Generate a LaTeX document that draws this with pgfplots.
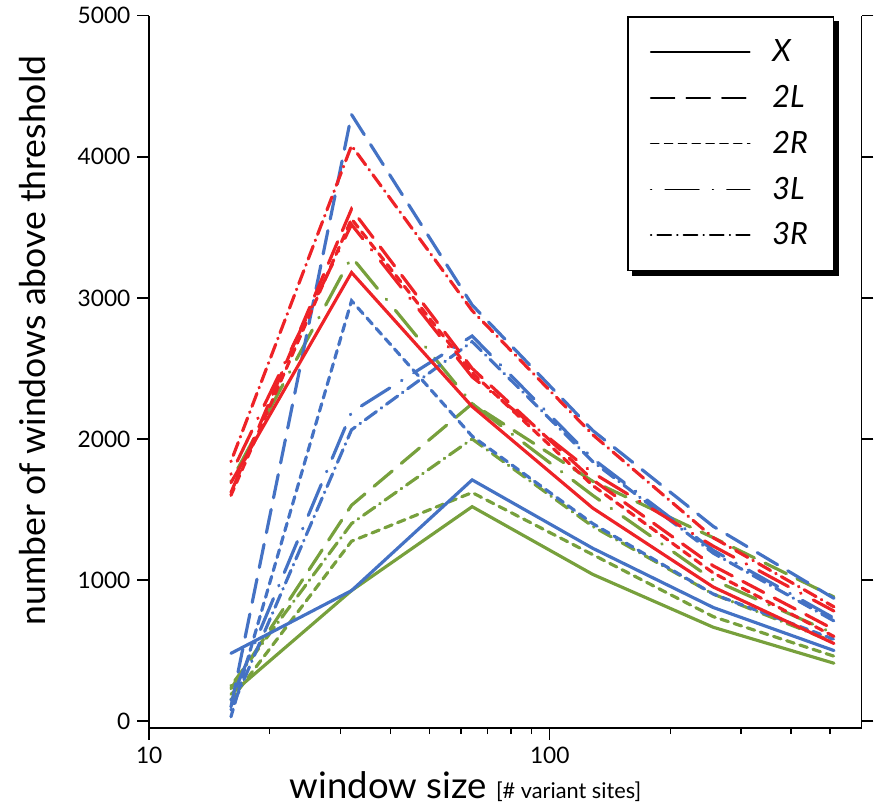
\documentclass[border=0pt]{standalone}
\usepackage{fontspec}
\setmainfont{Lato}
\usepackage{pgfplots}
\pgfplotsset{compat=1.18}
\usetikzlibrary{calc}
\pgfdeclarelayer{background}
\pgfsetlayers{background,main}
\definecolor{cblue}{HTML}{4472C4}
\definecolor{cred}{HTML}{EE2227}
\definecolor{cgreen}{HTML}{77A03C}
\tikzset{
 sX/.style={solid},
 s2L/.style={dash pattern=on 12pt off 6pt},
 s2R/.style={dash pattern=on 4pt off 3pt},
 s3L/.style={dash pattern=on 0.3pt off 7pt on 17pt off 7pt},
 s3R/.style={dash pattern=on 0.3pt off 3pt on 7pt off 3pt},
}
\begin{document}
\begin{tikzpicture}
\begin{axis}[
 scale only axis, width=360.5pt, height=360.5pt,
 xmode=log, xmin=10, xmax=600, ymin=-50, ymax=5000,
 axis x line=bottom, axis y line=box, axis line style={-, line width=0.9pt},
 tick align=outside,
 ytick={0,1000,...,5000}, xtick={10,100}, xticklabels={10,100},
 minor xtick={20,30,40,50,60,70,80,90,200,300,400,500},
 yticklabel pos=left,
 major tick length=6pt, minor tick length=3pt,
 every tick/.style={line width=0.7pt, black},
 ticklabel style={font=\fontsize{11.5}{13}\selectfont},
 /pgf/number format/assume math mode=true,
 /pgf/number format/set thousands separator={},
 ylabel={number of windows above threshold},
 ylabel style={font=\fontsize{18}{21}\selectfont, at={(axis description cs:-0.164,0.544)}, anchor=center},
 xlabel={window size {\fontsize{11}{13}\selectfont [\# variant sites]}},
 xlabel style={font=\fontsize{18.5}{21}\selectfont, at={(axis description cs:0.444,-0.0985)}, anchor=base},
 every axis plot/.append style={line width=1.6pt, line cap=round},
 legend image code/.code={\draw[#1, line width=0.9pt] (0pt,0pt) -- (50pt,0pt);},
 legend cell align=left,
 legend style={name=leg, draw=black, line width=0.9pt, fill=white, at={(0.962,1)}, anchor=north east,
   inner xsep=11pt, inner ysep=9.5pt, row sep=6.5pt,
   /tikz/every odd column/.append style={column sep=9pt},
   font=\fontsize{15.5}{17}\selectfont\itshape},
]
\addlegendimage{black, sX}\addlegendentry{X}
\addlegendimage{black, s2L}\addlegendentry{2L}
\addlegendimage{black, s2R}\addlegendentry{2R}
\addlegendimage{black, s3L}\addlegendentry{3L}
\addlegendimage{black, s3R}\addlegendentry{3R}
% green
\addplot[cgreen, sX, forget plot] coordinates {(16,190) (32,925) (64,1520) (128,1040) (256,665) (512,410)};
\addplot[cgreen, s2L, forget plot] coordinates {(16,230) (32,1530) (64,2250) (128,1700) (256,1300) (512,880)};
\addplot[cgreen, s2R, forget plot] coordinates {(16,150) (32,1275) (64,1620) (128,1180) (256,740) (512,460)};
\addplot[cgreen, s3L, forget plot] coordinates {(16,1700) (32,3290) (64,2250) (128,1600) (256,1000) (512,620)};
\addplot[cgreen, s3R, forget plot] coordinates {(16,250) (32,1400) (64,2000) (128,1380) (256,900) (512,560)};
% blue
\addplot[cblue, sX, forget plot] coordinates {(16,480) (32,925) (64,1710) (128,1225) (256,805) (512,500)};
\addplot[cblue, s2L, forget plot] coordinates {(16,100) (32,4300) (64,2950) (128,2060) (256,1380) (512,870)};
\addplot[cblue, s2R, forget plot] coordinates {(16,30) (32,2980) (64,2020) (128,1400) (256,900) (512,580)};
\addplot[cblue, s3L, forget plot] coordinates {(16,150) (32,2190) (64,2730) (128,1860) (256,1210) (512,730)};
\addplot[cblue, s3R, forget plot] coordinates {(16,80) (32,2065) (64,2690) (128,1840) (256,1190) (512,710)};
% red
\addplot[cred, sX, forget plot] coordinates {(16,1690) (32,3180) (64,2230) (128,1510) (256,950) (512,550)};
\addplot[cred, s2L, forget plot] coordinates {(16,1620) (32,3630) (64,2500) (128,1710) (256,1100) (512,650)};
\addplot[cred, s2R, forget plot] coordinates {(16,1600) (32,3560) (64,2470) (128,1670) (256,1050) (512,600)};
\addplot[cred, s3L, forget plot] coordinates {(16,1750) (32,3520) (64,2440) (128,1760) (256,1240) (512,780)};
\addplot[cred, s3R, forget plot] coordinates {(16,1840) (32,4080) (64,2910) (128,2030) (256,1300) (512,810)};
\coordinate (ll) at (rel axis cs:0,0);
\coordinate (ur) at (rel axis cs:1,1);
\end{axis}
\begin{pgfonlayer}{background}
\fill[black] ($(leg.south west)+(2.5pt,-2.5pt)$) rectangle ($(leg.north east)+(2.5pt,-2.5pt)$);
\end{pgfonlayer}
\path ($(ll)+(-75.5pt,-40.5pt)$) rectangle ($(ur)+(1pt,8pt)$);
\end{tikzpicture}
\end{document}
